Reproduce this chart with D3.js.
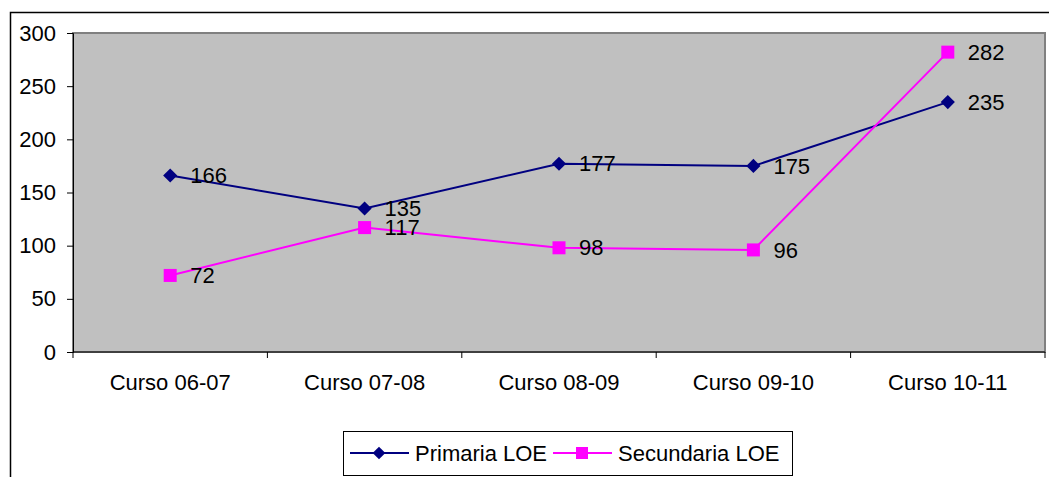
<!DOCTYPE html>
<html>
<head>
<meta charset="utf-8">
<script src="https://d3js.org/d3.v7.min.js"></script>
<style>
  body { margin: 0; background: #fff; }
  svg { display: block; font-family: "Liberation Sans", Arial, sans-serif; }
</style>
</head>
<body>
<div id="chart"></div>
<script>
const categories = ["Curso 06-07", "Curso 07-08", "Curso 08-09", "Curso 09-10", "Curso 10-11"];
const primaria = [166, 135, 177, 175, 235];
const secundaria = [72, 117, 98, 96, 282];
const yTicks = [0, 50, 100, 150, 200, 250, 300];
const seriesNames = ["Primaria LOE", "Secundaria LOE"];

const W = 1049, H = 477;
const margin = {top: 33, right: 4, bottom: 125, left: 73};
const width = W - margin.left - margin.right;
const height = H - margin.top - margin.bottom;
const fs = 22;

const svg = d3.select("#chart").append("svg")
  .attr("width", W)
  .attr("height", H);

// outer chart frame
svg.append("path")
  .attr("d", "M10.5," + H + " V12.5 H" + W)
  .attr("fill", "none")
  .attr("stroke", "#000")
  .attr("stroke-width", 1.5);

const g = svg.append("g")
  .attr("transform", "translate(" + margin.left + "," + margin.top + ")");

const x = d3.scaleBand().domain(categories).range([0, width]);
const y = d3.scaleLinear().domain([0, 300]).range([height, 0]);

// plot area
g.append("rect")
  .attr("x", 0).attr("y", 0)
  .attr("width", width).attr("height", height)
  .attr("fill", "#c0c0c0")
  .attr("stroke", "#808080")
  .attr("stroke-width", 2);

// y axis
const yAxis = d3.axisLeft(y).tickValues(yTicks).tickSize(6).tickPadding(11);
g.append("g")
  .attr("class", "y axis")
  .call(yAxis)
  .call(s => s.select(".domain").attr("stroke", "#000"))
  .call(s => s.selectAll("text").attr("font-size", fs).attr("fill", "#000")
    .attr("font-family", "Liberation Sans, Arial, sans-serif"));

// x axis (ticks at band edges)
const xAxisG = g.append("g")
  .attr("class", "x axis")
  .attr("transform", "translate(0," + height + ")");
xAxisG.append("line")
  .attr("x1", 0).attr("x2", width)
  .attr("stroke", "#000");
const edges = categories.map(c => x(c)).concat([width]);
xAxisG.selectAll(".edge").data(edges).enter().append("line")
  .attr("x1", d => d).attr("x2", d => d)
  .attr("y1", 0).attr("y2", 6)
  .attr("stroke", "#000");
xAxisG.selectAll(".lab").data(categories).enter().append("text")
  .attr("x", d => x(d) + x.bandwidth() / 2)
  .attr("y", 38)
  .attr("text-anchor", "middle")
  .attr("font-size", fs)
  .text(d => d);

const cx = c => x(c) + x.bandwidth() / 2;

const line = d3.line()
  .x((d, i) => cx(categories[i]))
  .y(d => y(d));

// primaria
g.append("path")
  .datum(primaria)
  .attr("fill", "none")
  .attr("stroke", "#000080")
  .attr("stroke-width", 2)
  .attr("d", line);

// secundaria
g.append("path")
  .datum(secundaria)
  .attr("fill", "none")
  .attr("stroke", "#ff00ff")
  .attr("stroke-width", 2)
  .attr("d", line);

g.selectAll(".mp").data(primaria).enter().append("rect")
  .attr("x", -5).attr("y", -5).attr("width", 10).attr("height", 10)
  .attr("fill", "#000080")
  .attr("transform", (d, i) => "translate(" + cx(categories[i]) + "," + y(d) + ") rotate(45)");

g.selectAll(".ms").data(secundaria).enter().append("rect")
  .attr("x", (d, i) => cx(categories[i]) - 6.5)
  .attr("y", d => y(d) - 6.5)
  .attr("width", 13).attr("height", 13)
  .attr("fill", "#ff00ff");

// data labels
function labels(data) {
  g.selectAll(null).data(data).enter().append("text")
    .attr("x", (d, i) => cx(categories[i]) + 20)
    .attr("y", d => y(d))
    .attr("dy", "0.35em")
    .attr("font-size", fs)
    .attr("fill", "#000")
    .text(d => d);
}
labels(primaria);
labels(secundaria);

// legend
const legend = svg.append("g").attr("transform", "translate(343,431)");
legend.append("rect")
  .attr("x", 0.5).attr("y", 0.5)
  .attr("width", 449).attr("height", 44)
  .attr("fill", "#fff")
  .attr("stroke", "#000");

const items = [
  {name: seriesNames[0], color: "#000080", shape: "diamond", x: 7},
  {name: seriesNames[1], color: "#ff00ff", shape: "square", x: 210}
];
items.forEach(it => {
  const li = legend.append("g").attr("transform", "translate(" + it.x + ",22)");
  li.append("line").attr("x1", 0).attr("x2", 59)
    .attr("stroke", it.color).attr("stroke-width", 2);
  if (it.shape === "diamond") {
    li.append("rect").attr("x", -4.5).attr("y", -4.5).attr("width", 9).attr("height", 9)
      .attr("fill", it.color)
      .attr("transform", "translate(29,0) rotate(45)");
  } else {
    li.append("rect").attr("x", 23).attr("y", -6).attr("width", 12).attr("height", 12)
      .attr("fill", it.color);
  }
  li.append("text")
    .attr("x", 65).attr("dy", "0.35em")
    .attr("font-size", fs)
    .text(it.name);
});
</script>
</body>
</html>
